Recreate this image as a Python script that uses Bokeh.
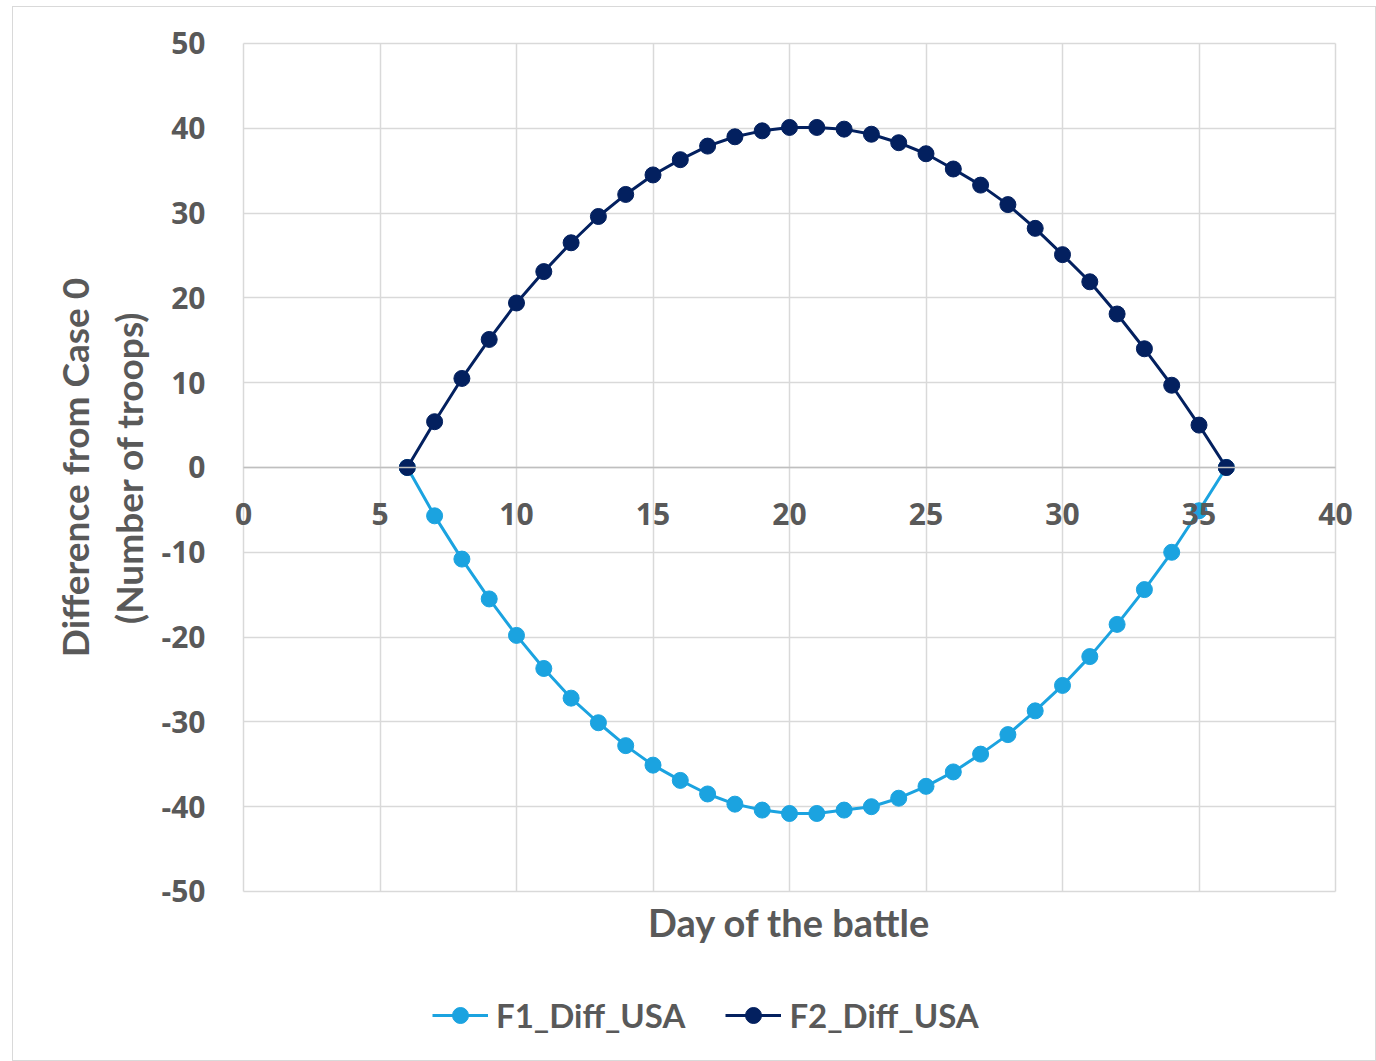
from bokeh.plotting import figure
from bokeh.models import (FixedTicker, Range1d, Legend, LegendItem,
                          PrintfTickFormatter, Label)
from bokeh.embed import file_html
from bokeh.resources import INLINE

days = list(range(6, 37))
f1_diff_usa = [0, -5.7, -10.8, -15.5, -19.8, -23.7, -27.2, -30.1, -32.8, -35.1,
               -36.9, -38.5, -39.7, -40.4, -40.8, -40.8, -40.4, -40.0, -39.0, -37.6,
               -35.9, -33.8, -31.5, -28.7, -25.7, -22.3, -18.5, -14.4, -10.0, -5.1, 0]
f2_diff_usa = [0, 5.4, 10.5, 15.1, 19.4, 23.1, 26.5, 29.6, 32.2, 34.5,
               36.3, 37.9, 39.0, 39.7, 40.1, 40.1, 39.9, 39.3, 38.3, 37.0,
               35.2, 33.3, 31.0, 28.2, 25.1, 21.9, 18.1, 14.0, 9.7, 5.0, 0]
x_ticks = [0, 5, 10, 15, 20, 25, 30, 35, 40]
y_ticks = [-50, -40, -30, -20, -10, 0, 10, 20, 30, 40, 50]

C1 = "#1BA3E0"
C2 = "#03205F"
TXT = "#595959"
GRID = "#D9D9D9"

XMIN, XMAX = min(x_ticks), max(x_ticks)
YMIN, YMAX = min(y_ticks), max(y_ticks)

# the frame covers the whole chart box; plot area is 0..40 x -50..50
p = figure(frame_width=1362, frame_height=1053, output_backend="svg", toolbar_location=None,
           x_range=Range1d(-8.425, 41.465), y_range=Range1d(-69.93, 54.245),
           min_border=0)
p.margin = (7, 0, 0, 13)
p.styles = {"outline": "1px solid #D9D9D9"}
p.outline_line_color = None

p.xgrid.ticker = FixedTicker(ticks=x_ticks)
p.ygrid.ticker = FixedTicker(ticks=y_ticks)
p.xgrid.bounds = (XMIN, XMAX)
p.ygrid.bounds = (YMIN, YMAX)
p.xgrid.cross_bounds = (YMIN, YMAX)
p.ygrid.cross_bounds = (XMIN, XMAX)
for g in (p.xgrid, p.ygrid):
    g.grid_line_color = GRID
    g.grid_line_width = 1.5

xa = p.xaxis[0]
xa.ticker = FixedTicker(ticks=x_ticks)
xa.fixed_location = 0
xa.bounds = (XMIN, XMAX)
xa.axis_line_color = "#BFBFBF"
xa.axis_line_width = 1.5
xa.major_tick_line_color = None
xa.minor_tick_line_color = None
xa.major_label_standoff = 30
xa.major_label_text_font = "Open Sans"
xa.major_label_text_font_style = "bold"
xa.major_label_text_font_size = "30px"
xa.major_label_text_color = TXT

ya = p.yaxis[0]
ya.ticker = FixedTicker(ticks=y_ticks)
ya.fixed_location = XMIN
ya.bounds = (YMIN, YMAX)
ya.formatter = PrintfTickFormatter(format="%d")
ya.axis_line_color = None
ya.major_tick_line_color = None
ya.minor_tick_line_color = None
ya.major_label_standoff = 32
ya.major_label_text_font = "Open Sans"
ya.major_label_text_font_style = "bold"
ya.major_label_text_font_size = "30px"
ya.major_label_text_color = TXT
ya.axis_label = "Difference from Case 0\n(Number of troops)"
ya.axis_label_text_font = "Lato"
ya.axis_label_text_font_style = "bold"
ya.axis_label_text_font_size = "37px"
ya.axis_label_text_color = TXT
ya.axis_label_standoff = 8

r1l = p.line(days, f1_diff_usa, line_color=C1, line_width=3)
r1m = p.scatter(days, f1_diff_usa, size=16, fill_color=C1, line_color=C1)
r2l = p.line(days, f2_diff_usa, line_color=C2, line_width=3)
r2m = p.scatter(days, f2_diff_usa, size=16, fill_color=C2, line_color=C2)

p.add_layout(Label(x=(XMIN + XMAX) / 2, y=YMIN, y_offset=-31, text="Day of the battle",
                   text_align="center", text_baseline="middle", text_font="Lato",
                   text_font_style="bold", text_font_size="38px", text_color=TXT))

legend = Legend(items=[LegendItem(label="F1_Diff_USA", renderers=[r1l, r1m]),
                       LegendItem(label="F2_Diff_USA", renderers=[r2l, r2m])],
                orientation="horizontal", location=(419, 25),
                label_text_font="Lato", label_text_font_style="bold",
                label_text_font_size="33px", label_text_color=TXT,
                glyph_width=56, glyph_height=40, spacing=40, margin=0, padding=8,
                border_line_color=None, background_fill_alpha=0, label_standoff=8)
p.add_layout(legend)

open("out.html", "w").write(file_html(p, INLINE))
